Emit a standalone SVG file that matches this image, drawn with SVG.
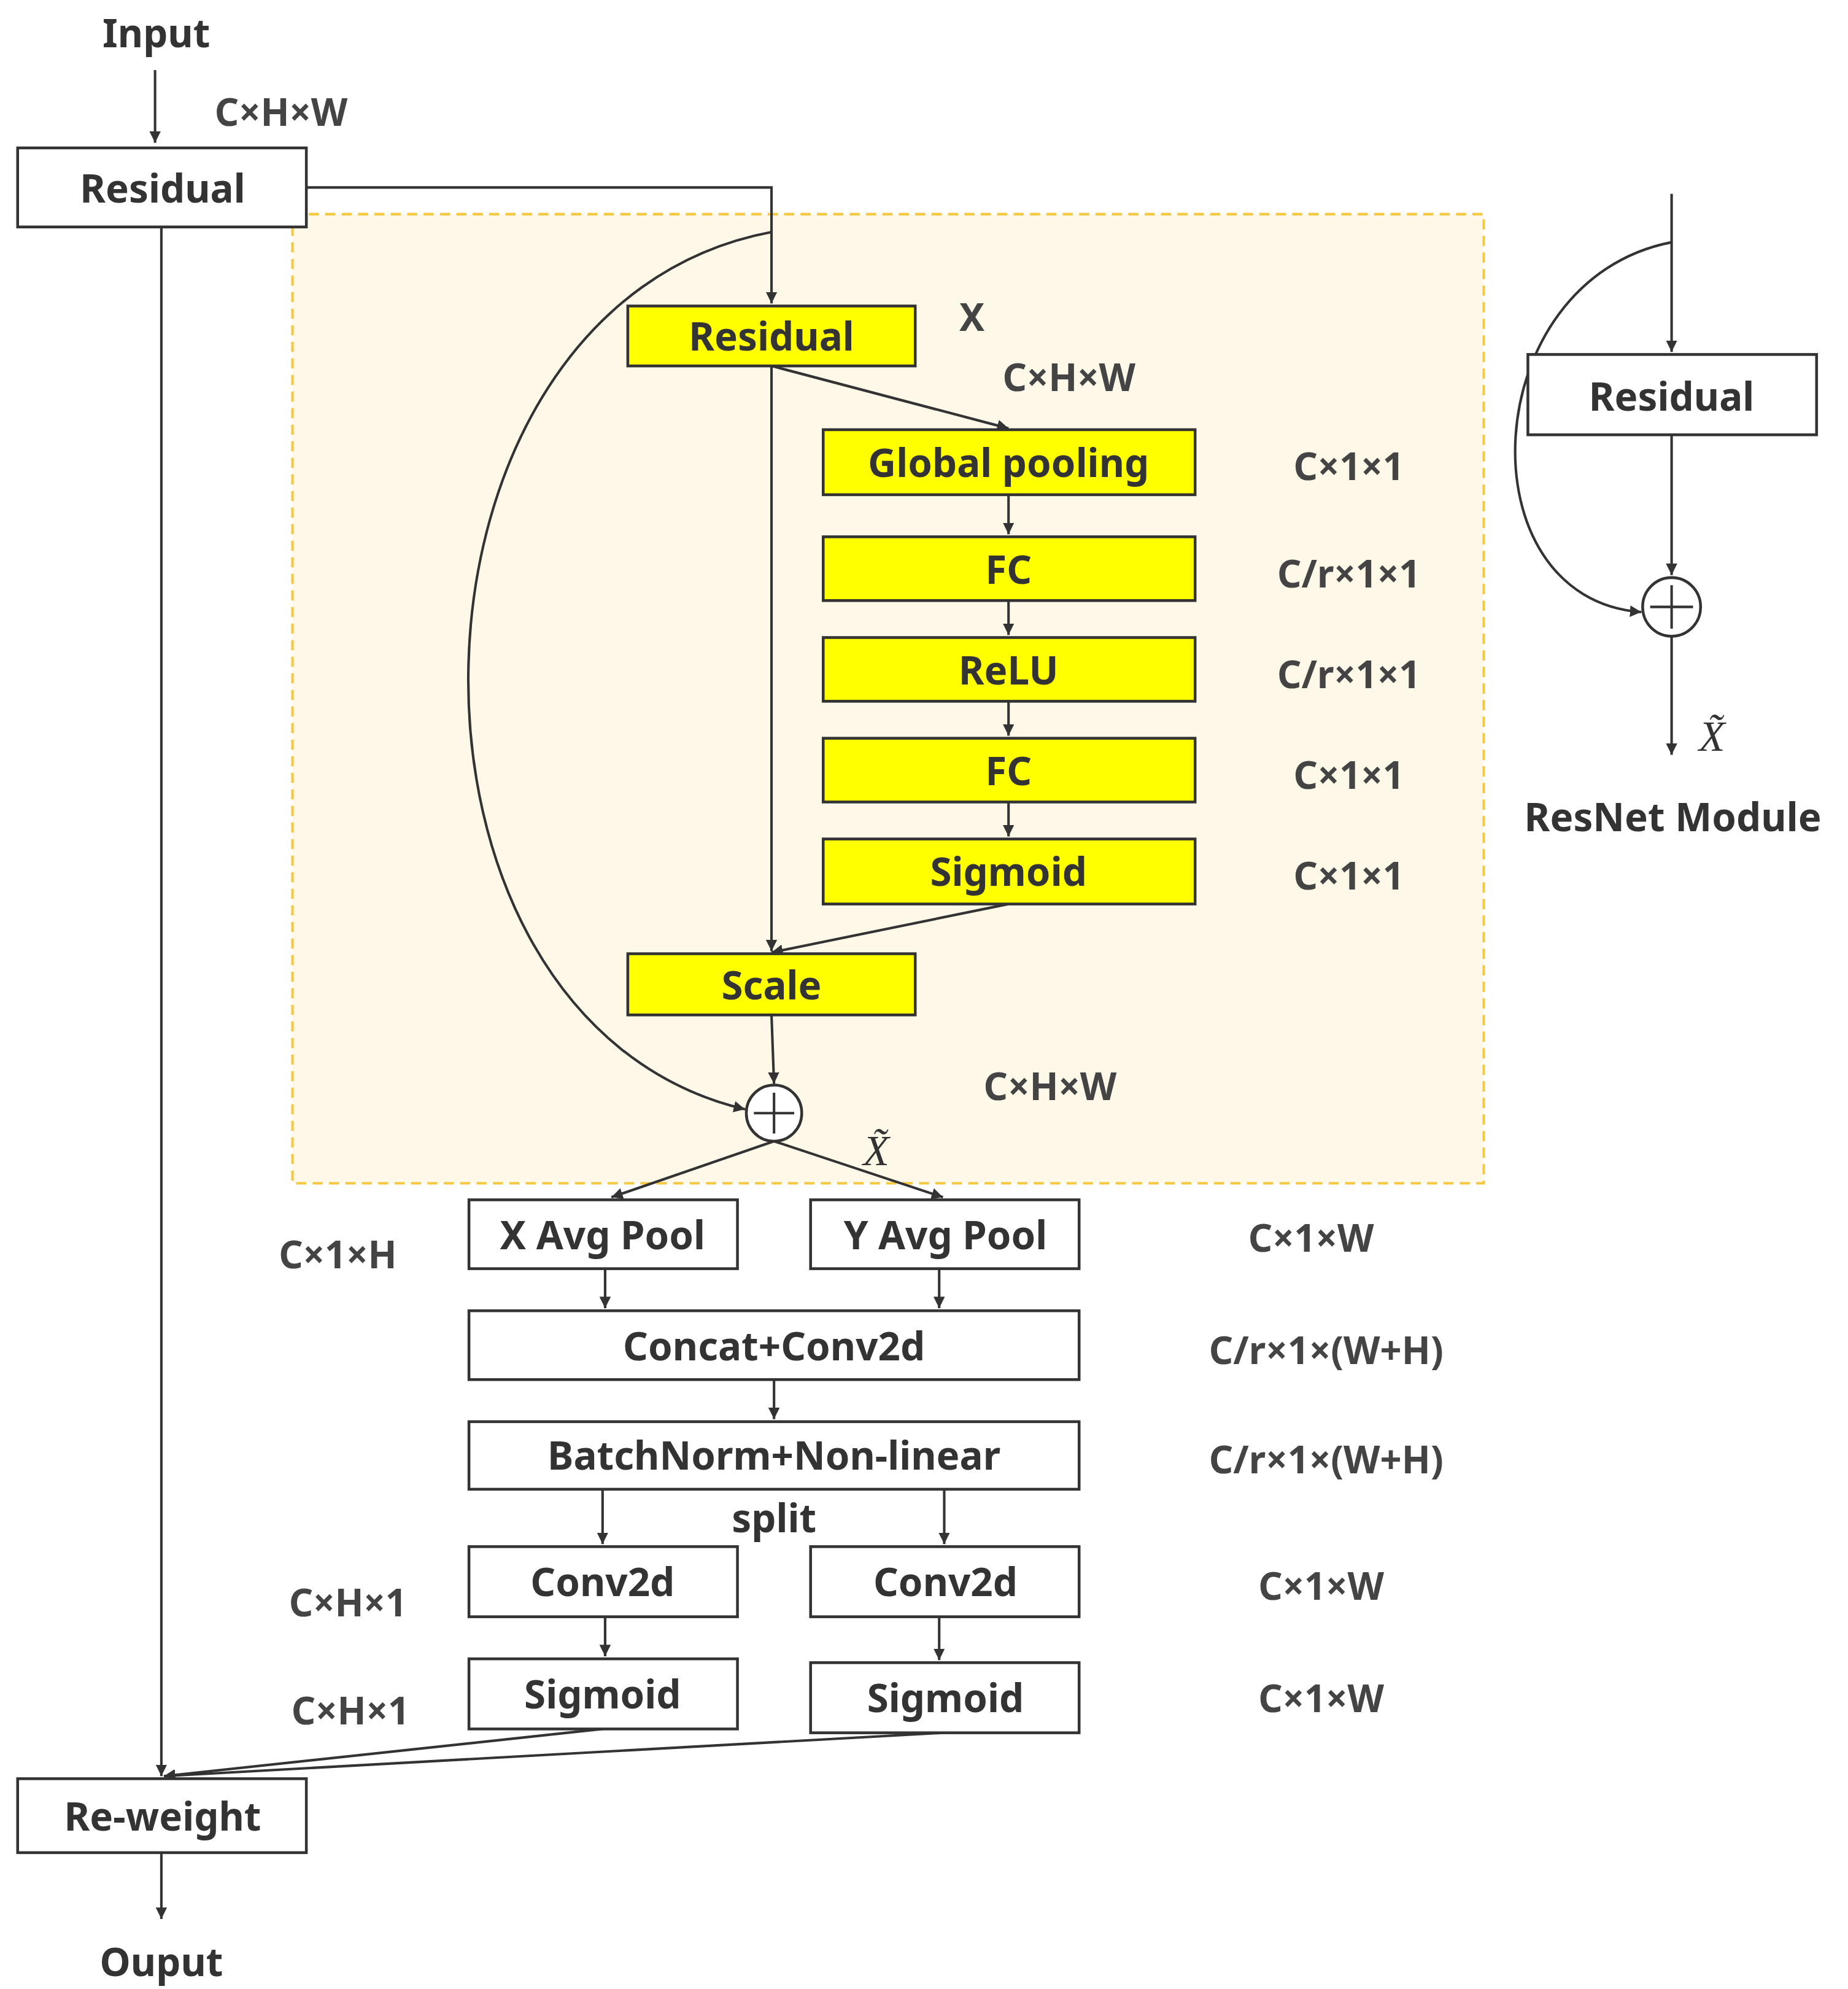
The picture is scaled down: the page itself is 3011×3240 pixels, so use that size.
<svg xmlns="http://www.w3.org/2000/svg" width="3011" height="3240" viewBox="0 0 3011 3240">
<style>
text{font-family:"Noto Sans","Liberation Sans",sans-serif;font-weight:bold;fill:#333;text-anchor:middle;dominant-baseline:central}
.b{fill:#fff;stroke:#333;stroke-width:2.2}
.y{fill:#ffff00;stroke:#333;stroke-width:2.2}
.l{fill:none;stroke:#333;stroke-width:2}
.t{font-size:31px}
.d{font-size:30px;fill:#444}
.m{font-family:"Liberation Serif",serif;font-style:italic;font-weight:normal;font-size:34px}
</style>
<defs><marker id="a" viewBox="0 0 10 10" refX="10" refY="5" markerWidth="9" markerHeight="9" markerUnits="userSpaceOnUse" orient="auto"><path d="M0,0L10,5L0,10z" fill="#333"/></marker></defs>
<rect width="3011" height="3240" fill="#fff"/>
<g transform="scale(2.054 2.077)">
<rect id="panel" x="232" y="168" width="945" height="760" fill="#fdf8e8" stroke="#f5c842" stroke-width="2" stroke-dasharray="8 5"/>
<g id="connectors" class="l" marker-end="url(#a)">
<path d="M123,55V112"/>
<path d="M128,178V1393"/>
<path d="M243,147H612V238"/>
<path d="M612,287V746"/>
<path d="M612,287L800,336"/>
<path d="M800,388V419"/><path d="M800,471V498"/><path d="M800,550V577"/><path d="M800,629V656"/>
<path d="M800,709L612,747"/>
<path d="M612,796L614,850"/>
<path d="M612,182C300,240 290,800 591,870"/>
<path d="M614,895L485,939"/><path d="M614,895L748,939"/>
<path d="M480,995V1026"/><path d="M745,995V1026"/>
<path d="M614,1082V1113"/>
<path d="M478,1168V1211"/><path d="M749,1168V1211"/>
<path d="M480,1268V1299"/><path d="M745,1268V1302"/>
<path d="M478,1356L130,1393"/><path d="M748,1359L130,1393"/>
<path d="M128,1453V1505"/>
<path d="M1326,152V276"/>
<path d="M1326,341V451"/>
<path d="M1326,190C1170,220 1160,470 1302,480"/>
<path d="M1326,499V592"/>
</g>
<g id="n_input"><text x="124" y="25" class="t">Input</text><text x="223" y="87" class="d">C×H×W</text></g>
<g id="n_res1"><rect class="b" x="14" y="116" width="229" height="62"/><text x="129" y="147" class="t">Residual</text></g>
<g id="n_res2"><rect class="y" x="498" y="240" width="228" height="47"/><text x="612" y="263" class="t">Residual</text><text x="771" y="248" class="d">X</text><text x="848" y="295" class="d">C×H×W</text></g>
<g id="n_gp"><rect class="y" x="653" y="337" width="295" height="51"/><text x="800" y="362" class="t">Global pooling</text><text x="1070" y="365" class="d">C×1×1</text></g>
<g id="n_fc1"><rect class="y" x="653" y="421" width="295" height="50"/><text x="800" y="446" class="t">FC</text><text x="1070" y="449" class="d">C/r×1×1</text></g>
<g id="n_relu"><rect class="y" x="653" y="500" width="295" height="50"/><text x="800" y="525" class="t">ReLU</text><text x="1070" y="528" class="d">C/r×1×1</text></g>
<g id="n_fc2"><rect class="y" x="653" y="579" width="295" height="50"/><text x="800" y="604" class="t">FC</text><text x="1070" y="607" class="d">C×1×1</text></g>
<g id="n_sig"><rect class="y" x="653" y="658" width="295" height="51"/><text x="800" y="683" class="t">Sigmoid</text><text x="1070" y="686" class="d">C×1×1</text></g>
<g id="n_scale"><rect class="y" x="498" y="748" width="228" height="48"/><text x="612" y="772" class="t">Scale</text></g>
<g id="n_plus"><circle cx="614" cy="873" r="22" class="b"/><path d="M598,873H630M614,857V889" class="l"/><text x="833" y="851" class="d">C×H×W</text><text x="695" y="902" class="m">X̃</text></g>
<g id="n_xap"><rect class="b" x="372" y="941" width="213" height="54"/><text x="478" y="968" class="t">X Avg Pool</text><text x="268" y="983" class="d">C×1×H</text></g>
<g id="n_yap"><rect class="b" x="643" y="941" width="213" height="54"/><text x="750" y="968" class="t">Y Avg Pool</text><text x="1040" y="970" class="d">C×1×W</text></g>
<g id="n_cc"><rect class="b" x="372" y="1028" width="484" height="54"/><text x="614" y="1055" class="t">Concat+Conv2d</text><text x="1052" y="1058" class="d">C/r×1×(W+H)</text></g>
<g id="n_bn"><rect class="b" x="372" y="1115" width="484" height="53"/><text x="614" y="1141" class="t">BatchNorm+Non-linear</text><text x="1052" y="1144" class="d">C/r×1×(W+H)</text><text x="614" y="1190" class="t">split</text></g>
<g id="n_cv1"><rect class="b" x="372" y="1213" width="213" height="55"/><text x="478" y="1240" class="t">Conv2d</text><text x="276" y="1256" class="d">C×H×1</text></g>
<g id="n_cv2"><rect class="b" x="643" y="1213" width="213" height="55"/><text x="750" y="1240" class="t">Conv2d</text><text x="1048" y="1243" class="d">C×1×W</text></g>
<g id="n_s1"><rect class="b" x="372" y="1301" width="213" height="55"/><text x="478" y="1328" class="t">Sigmoid</text><text x="278" y="1341" class="d">C×H×1</text></g>
<g id="n_s2"><rect class="b" x="643" y="1304" width="213" height="55"/><text x="750" y="1331" class="t">Sigmoid</text><text x="1048" y="1331" class="d">C×1×W</text></g>
<g id="n_rw"><rect class="b" x="14" y="1395" width="229" height="58"/><text x="129" y="1424" class="t">Re-weight</text><text x="128" y="1538" class="t">Ouput</text></g>
<g id="n_rres"><rect class="b" x="1212" y="278" width="229" height="63"/><text x="1326" y="310" class="t">Residual</text></g>
<g id="n_rplus"><circle cx="1326" cy="476" r="23" class="b"/><path d="M1309,476H1343M1326,459V493" class="l"/><text x="1358" y="577" class="m">X̃</text><text x="1327" y="640" class="t">ResNet Module</text></g>
</g>
</svg>
